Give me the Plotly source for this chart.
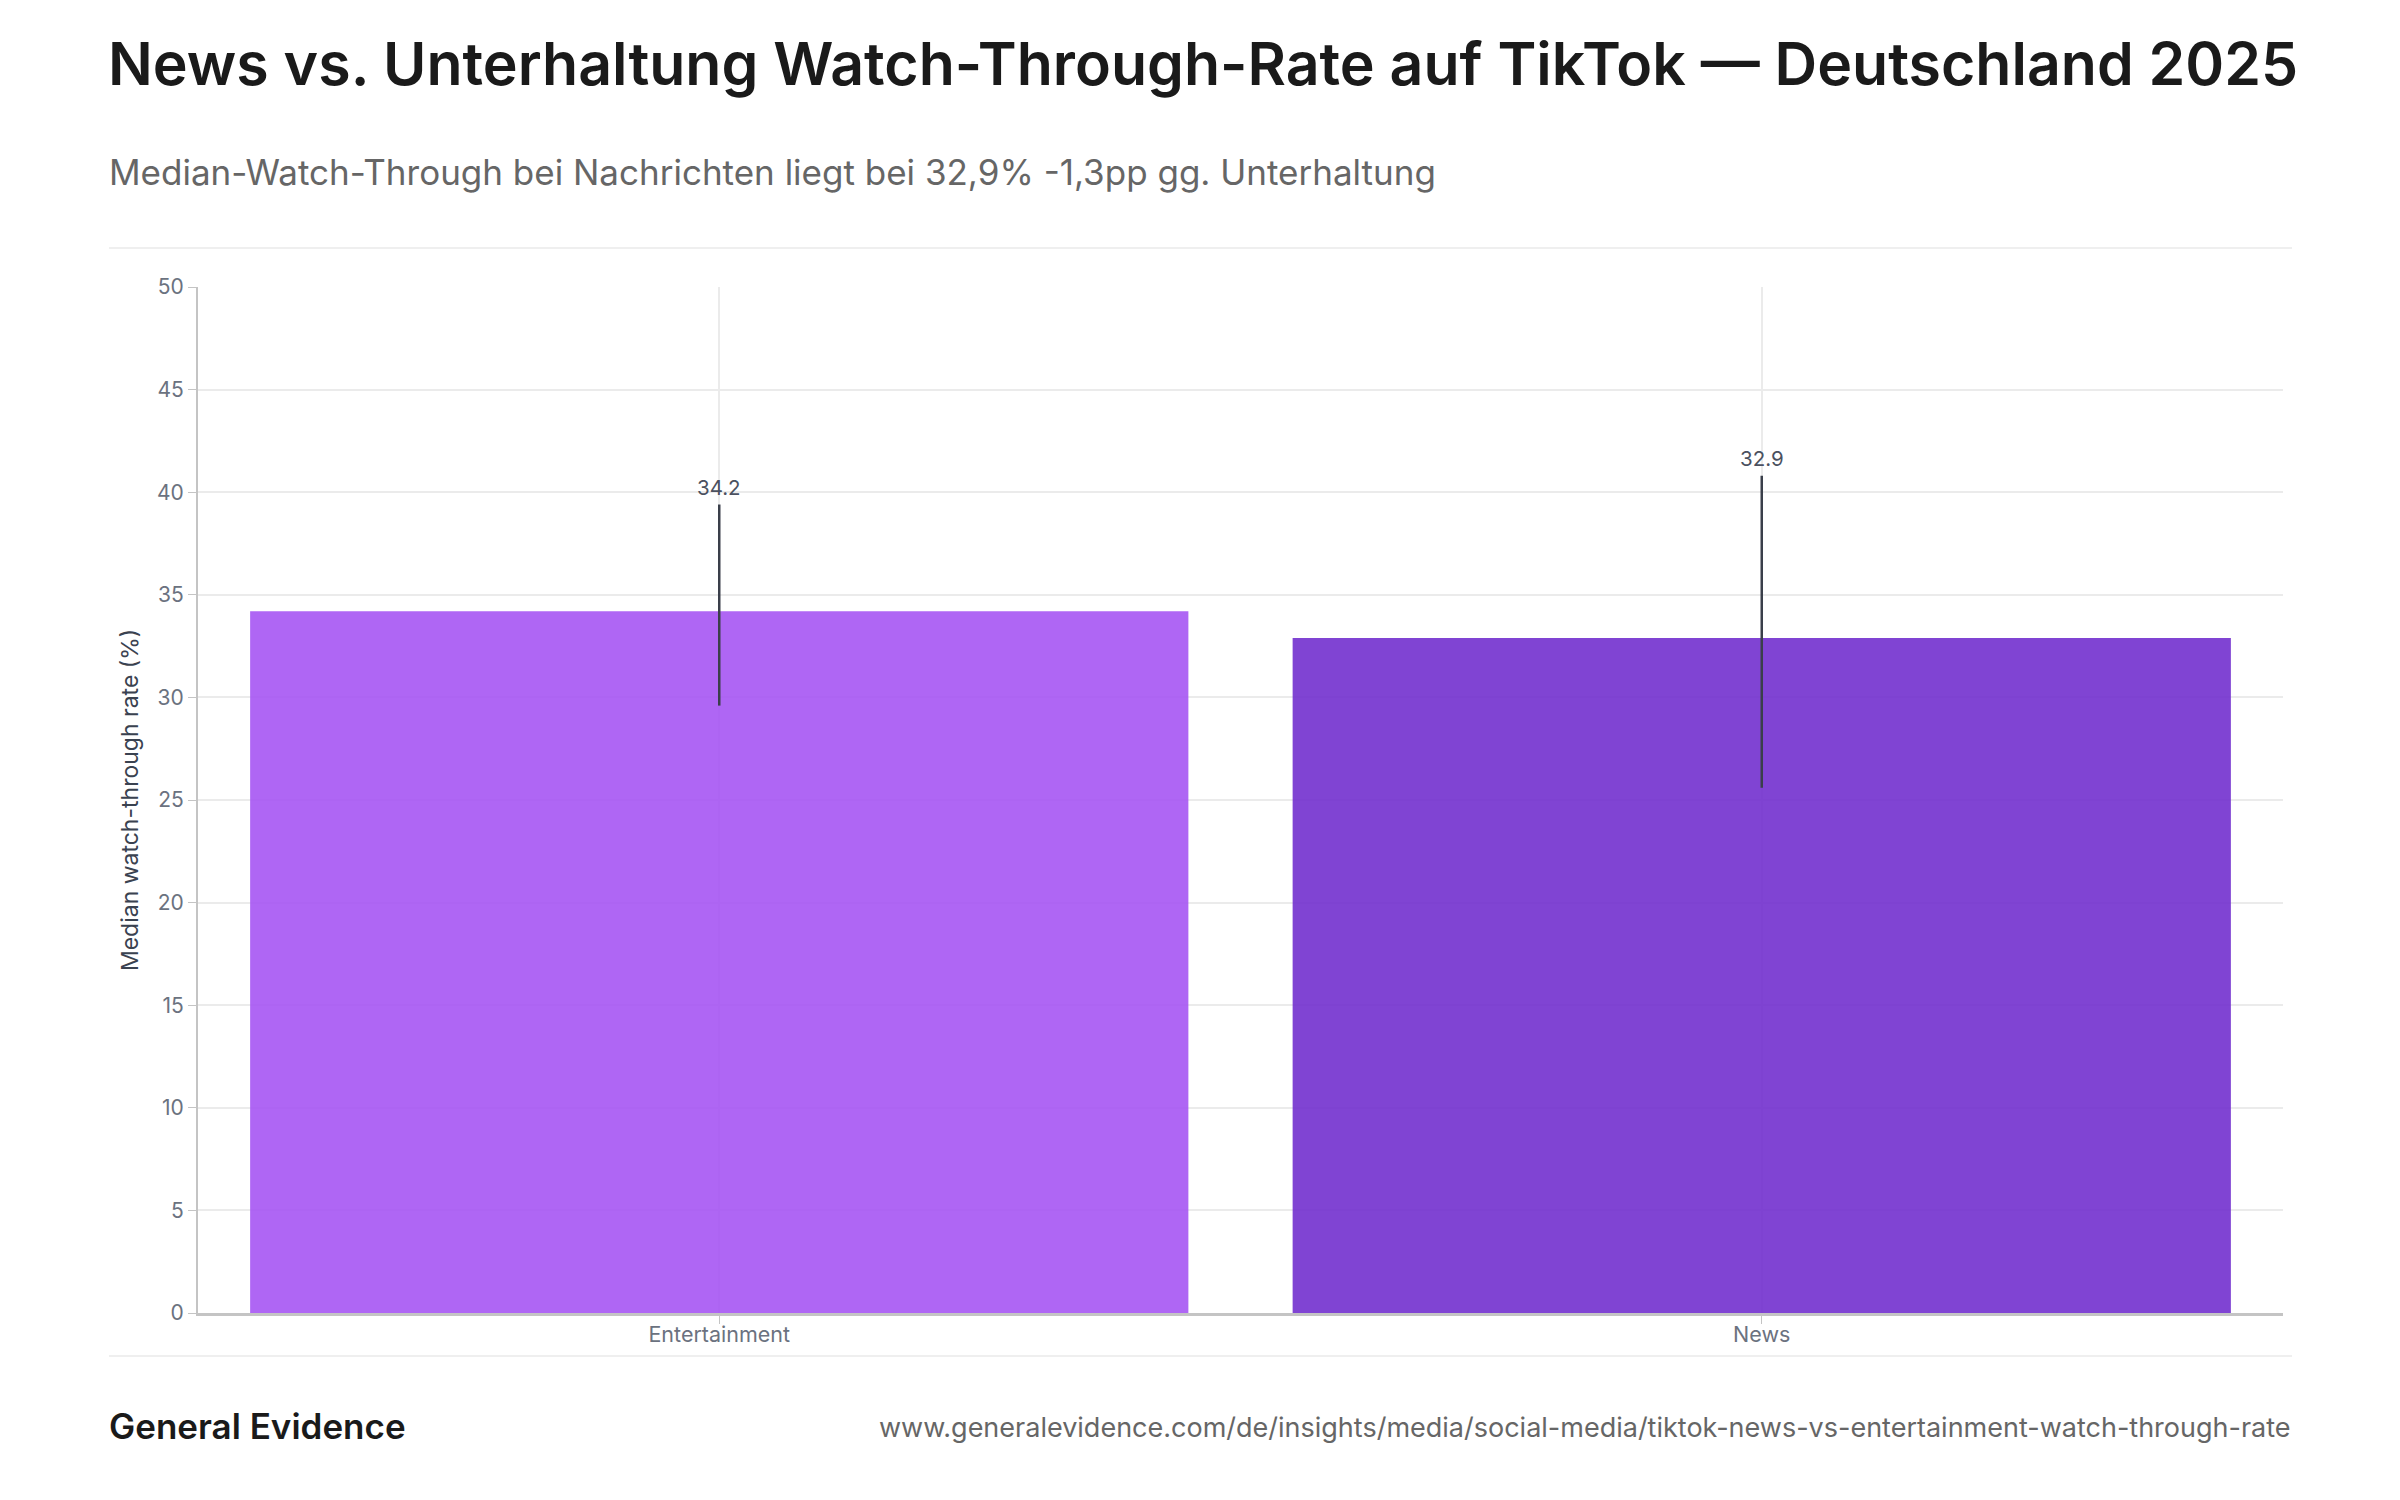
import plotly.graph_objects as go

# ---- data ----
categories = ["Entertainment", "News"]
median_rate = [34.2, 32.9]
ci_low = [29.6, 25.6]
ci_high = [39.4, 40.8]
value_labels = ["34.2", "32.9"]
bar_colors = ["#a655f3", "#7230ce"]

title_text = "News vs. Unterhaltung Watch-Through-Rate auf TikTok — Deutschland 2025"
subtitle_text = "Median-Watch-Through bei Nachrichten liegt bei 32,9% -1,3pp gg. Unterhaltung"
y_title = "Median watch-through rate (%)"
brand = "General Evidence"
url = "www.generalevidence.com/de/insights/media/social-media/tiktok-news-vs-entertainment-watch-through-rate"

# page body has an 8px margin; work in screen coordinates and convert
OFF = 8
W, H = 2400 - 2 * OFF, 1500 - 2 * OFF
PLOT_L, PLOT_R, PLOT_T, PLOT_B = 198, 2283, 287, 1313  # screen px
L = PLOT_L - OFF
R = W - (PLOT_R - OFF)
T = PLOT_T - OFF
B = H - (PLOT_B - OFF)
PW, PH = W - L - R, H - T - B

def px(x):
    return (x - OFF - L) / PW

def py(y):
    return (H - B - (y - OFF)) / PH

FONT = "Inter"

fig = go.Figure()
fig.add_trace(go.Bar(
    x=categories,
    y=median_rate,
    marker=dict(color=bar_colors, opacity=0.9, line=dict(width=0)),
    error_y=dict(
        type="data",
        symmetric=False,
        array=[h - v for h, v in zip(ci_high, median_rate)],
        arrayminus=[v - l for l, v in zip(ci_low, median_rate)],
        color="#3a3f4a",
        thickness=2.5,
        width=0,
    ),
    hoverinfo="skip",
    showlegend=False,
))

annotations = []
for c, hi, lab in zip(categories, ci_high, value_labels):
    annotations.append(dict(
        x=c, y=hi, xref="x", yref="y", text=lab, showarrow=False,
        yanchor="bottom", yshift=3,
        font=dict(family=FONT, size=20.5, color="#4b5160"),
    ))

annotations += [
    dict(xref="paper", yref="paper", x=px(106), y=py(63), xanchor="left", yanchor="middle",
         text=title_text, showarrow=False,
         font=dict(family=FONT, size=59, color="#1a1a1a", weight=600)),
    dict(xref="paper", yref="paper", x=px(107), y=py(172), xanchor="left", yanchor="middle",
         text=subtitle_text, showarrow=False,
         font=dict(family=FONT, size=35, color="#666666")),
    dict(xref="paper", yref="paper", x=px(107), y=py(1426), xanchor="left", yanchor="middle",
         text=brand, showarrow=False,
         font=dict(family=FONT, size=35, color="#1a1a1a", weight=600)),
    dict(xref="paper", yref="paper", x=px(2293), y=py(1427), xanchor="right", yanchor="middle",
         text=url, showarrow=False,
         font=dict(family=FONT, size=27, color="#666666")),
]

shapes = [
    dict(type="line", xref="paper", yref="paper", x0=px(109), x1=px(2292), y0=py(248), y1=py(248),
         line=dict(color="#efefef", width=2)),
    dict(type="line", xref="paper", yref="paper", x0=px(109), x1=px(2292), y0=py(1356), y1=py(1356),
         line=dict(color="#efefef", width=2)),
]

fig.update_layout(
    width=W, height=H,
    margin=dict(l=L, r=R, t=T, b=B, autoexpand=False),
    paper_bgcolor="white",
    plot_bgcolor="white",
    bargap=0.1,
    annotations=annotations,
    shapes=shapes,
    font=dict(family=FONT),
)

fig.update_xaxes(
    showgrid=True, gridcolor="#ebebeb", gridwidth=1.5,
    showline=True, linecolor="#c4c4c4", linewidth=2.5,
    ticks="outside", ticklen=8, tickcolor="#c4c4c4", tickwidth=1,
    ticklabelstandoff=-8,
    tickfont=dict(family=FONT, size=21.5, color="#6b7280"),
)
fig.update_yaxes(
    range=[0, 50], dtick=5,
    showgrid=True, gridcolor="#ebebeb", gridwidth=1.5,
    showline=True, linecolor="#c4c4c4", linewidth=2,
    ticks="outside", ticklen=8, tickcolor="#c4c4c4", tickwidth=1,
    tickfont=dict(family=FONT, size=21, color="#6b7280"),
    zeroline=False,
    title=dict(text=y_title, standoff=12, font=dict(family=FONT, size=23, color="#3a4250")),
)

fig.write_html("out.html")
